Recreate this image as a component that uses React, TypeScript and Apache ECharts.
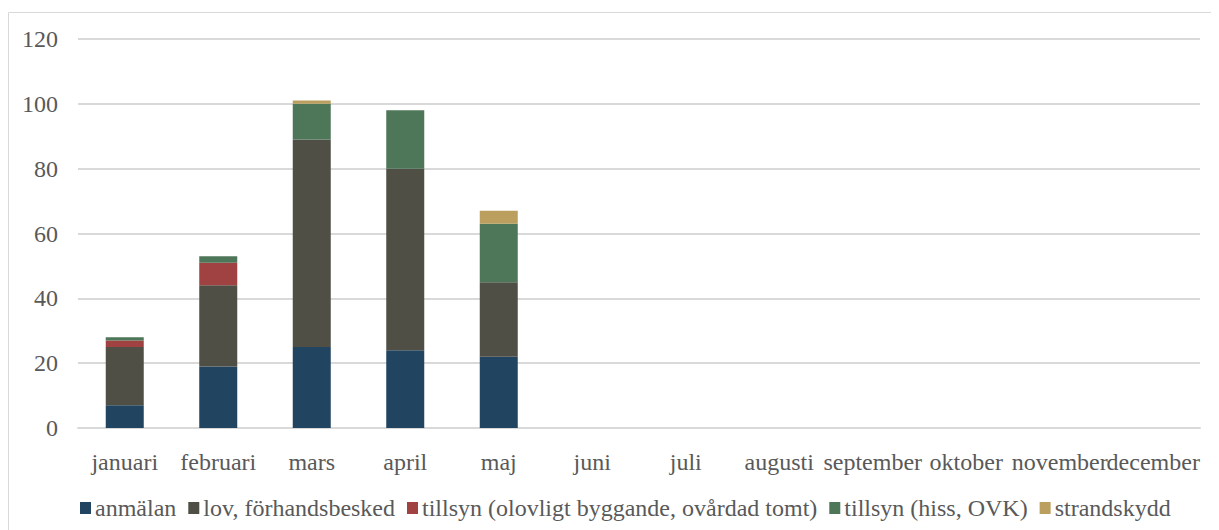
import React, { useEffect, useRef } from "react";
import * as echarts from "echarts";

const months = ["januari", "februari", "mars", "april", "maj", "juni", "juli", "augusti", "september", "oktober", "november", "december"];
const seriesNames = ["anmälan", "lov, förhandsbesked", "tillsyn (olovligt byggande, ovårdad tomt)", "tillsyn (hiss, OVK)", "strandskydd"];
const anmalan = [7, 19, 25, 24, 22, null, null, null, null, null, null, null];
const lov = [18, 25, 64, 56, 23, null, null, null, null, null, null, null];
const tillsynOlovligt = [2, 7, 0, 0, 0, null, null, null, null, null, null, null];
const tillsynHiss = [1, 2, 11, 18, 18, null, null, null, null, null, null, null];
const strandskydd = [0, 0, 1, 0, 4, null, null, null, null, null, null, null];
const colors = ["#214561", "#4F4F46", "#A04241", "#4E7659", "#BB9F5F"];
const yTicks = { min: 0, max: 120, interval: 20 };

export default function App() {
  const ref = useRef<HTMLDivElement>(null);
  useEffect(() => {
    if (!ref.current) return;
    const chart = echarts.init(ref.current, undefined, { renderer: "svg" });
    const font = "Liberation Serif";
    const values = [anmalan, lov, tillsynOlovligt, tillsynHiss, strandskydd];
    chart.setOption({
      animation: false,
      textStyle: { fontFamily: font },
      graphic: [
        {
          type: "rect",
          shape: { x: 0.5, y: 4.5, width: 1240, height: 560 },
          style: { fill: "none", stroke: "#d9d9d9", lineWidth: 1 },
          silent: true,
        },
      ],
      legend: {
        left: 67,
        top: 483,
        itemWidth: 11,
        itemHeight: 12,
        itemGap: 12,
        icon: "rect",
        textStyle: { fontFamily: font, fontSize: 24, color: "#595959", padding: [0, 0, 0, -1] },
        data: seriesNames,
      },
      grid: { left: 70, right: 19, top: 31, bottom: 102 },
      xAxis: {
        type: "category",
        data: months,
        axisLine: { show: true, lineStyle: { color: "#d9d9d9", width: 2 } },
        axisTick: { show: false },
        axisLabel: { fontFamily: font, fontSize: 24, color: "#595959", margin: 22, interval: 0 },
      },
      yAxis: {
        type: "value",
        min: yTicks.min,
        max: yTicks.max,
        interval: yTicks.interval,
        axisLine: { show: false },
        axisTick: { show: false },
        axisLabel: { fontFamily: font, fontSize: 24, color: "#595959", margin: 20 },
        splitLine: { lineStyle: { color: "#d9d9d9", width: 2 } },
      },
      series: seriesNames.map((name, i) => ({
        name,
        type: "bar",
        stack: "total",
        barWidth: 38,
        data: values[i],
        itemStyle: { color: colors[i] },
      })),
    });
    return () => chart.dispose();
  }, []);
  return <div ref={ref} style={{ width: 1211, height: 522 }} />;
}
